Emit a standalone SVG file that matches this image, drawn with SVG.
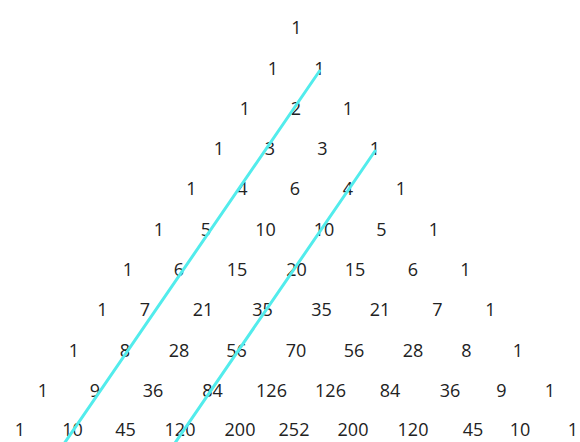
<svg xmlns="http://www.w3.org/2000/svg" width="580" height="442" viewBox="0 0 580 442">
<style>
text{font-family:"Open Sans","Liberation Sans",sans-serif;font-size:18px;fill:#222;text-anchor:middle}
.ln{stroke:#52ECEC;stroke-width:3;fill:none;stroke-linecap:round}
</style>
<rect width="580" height="442" fill="#fff"/>
<g id="row0"><text x="296.5" y="33.5">1</text></g>
<g id="row1"><text x="273" y="74.5">1</text><text x="319.5" y="74.5">1</text></g>
<g id="row2"><text x="245" y="114.5">1</text><text x="296" y="114.5">2</text><text x="348" y="114.5">1</text></g>
<g id="row3"><text x="219" y="154.5">1</text><text x="270" y="154.5">3</text><text x="322.5" y="154.5">3</text><text x="375" y="154.5">1</text></g>
<g id="row4"><text x="191.5" y="194.5">1</text><text x="242.5" y="194.5">4</text><text x="295" y="194.5">6</text><text x="348" y="194.5">4</text><text x="401" y="194.5">1</text></g>
<g id="row5"><text x="159" y="235.5">1</text><text x="206" y="235.5">5</text><text x="265.5" y="235.5">10</text><text x="324" y="235.5">10</text><text x="381.5" y="235.5">5</text><text x="434" y="235.5">1</text></g>
<g id="row6"><text x="128" y="275.5">1</text><text x="179" y="275.5">6</text><text x="237" y="275.5">15</text><text x="296.5" y="275.5">20</text><text x="355" y="275.5">15</text><text x="413" y="275.5">6</text><text x="465.5" y="275.5">1</text></g>
<g id="row7"><text x="102.5" y="315.5">1</text><text x="145" y="315.5">7</text><text x="203" y="315.5">21</text><text x="262.5" y="315.5">35</text><text x="321.5" y="315.5">35</text><text x="380" y="315.5">21</text><text x="437.5" y="315.5">7</text><text x="490.5" y="315.5">1</text></g>
<g id="row8"><text x="74" y="356.5">1</text><text x="125" y="356.5">8</text><text x="179" y="356.5">28</text><text x="236.5" y="356.5">56</text><text x="296" y="356.5">70</text><text x="354" y="356.5">56</text><text x="413" y="356.5">28</text><text x="466.5" y="356.5">8</text><text x="518" y="356.5">1</text></g>
<g id="row9"><text x="43" y="396.5">1</text><text x="95" y="396.5">9</text><text x="153" y="396.5">36</text><text x="212.5" y="396.5">84</text><text x="271.5" y="396.5">126</text><text x="330.5" y="396.5">126</text><text x="390" y="396.5">84</text><text x="450" y="396.5">36</text><text x="501.5" y="396.5">9</text><text x="550" y="396.5">1</text></g>
<g id="row10"><text x="20" y="435.5">1</text><text x="72.5" y="435.5">10</text><text x="125.5" y="435.5">45</text><text x="180" y="435.5">120</text><text x="240" y="435.5">200</text><text x="294" y="435.5">252</text><text x="353" y="435.5">200</text><text x="413" y="435.5">120</text><text x="473" y="435.5">45</text><text x="520" y="435.5">10</text><text x="573" y="435.5">1</text></g>
<g id="connectors">
<line class="ln" x1="319.5" y1="71" x2="64.5" y2="443"/>
<line class="ln" x1="375" y1="151" x2="175" y2="443"/>
</g>
</svg>
